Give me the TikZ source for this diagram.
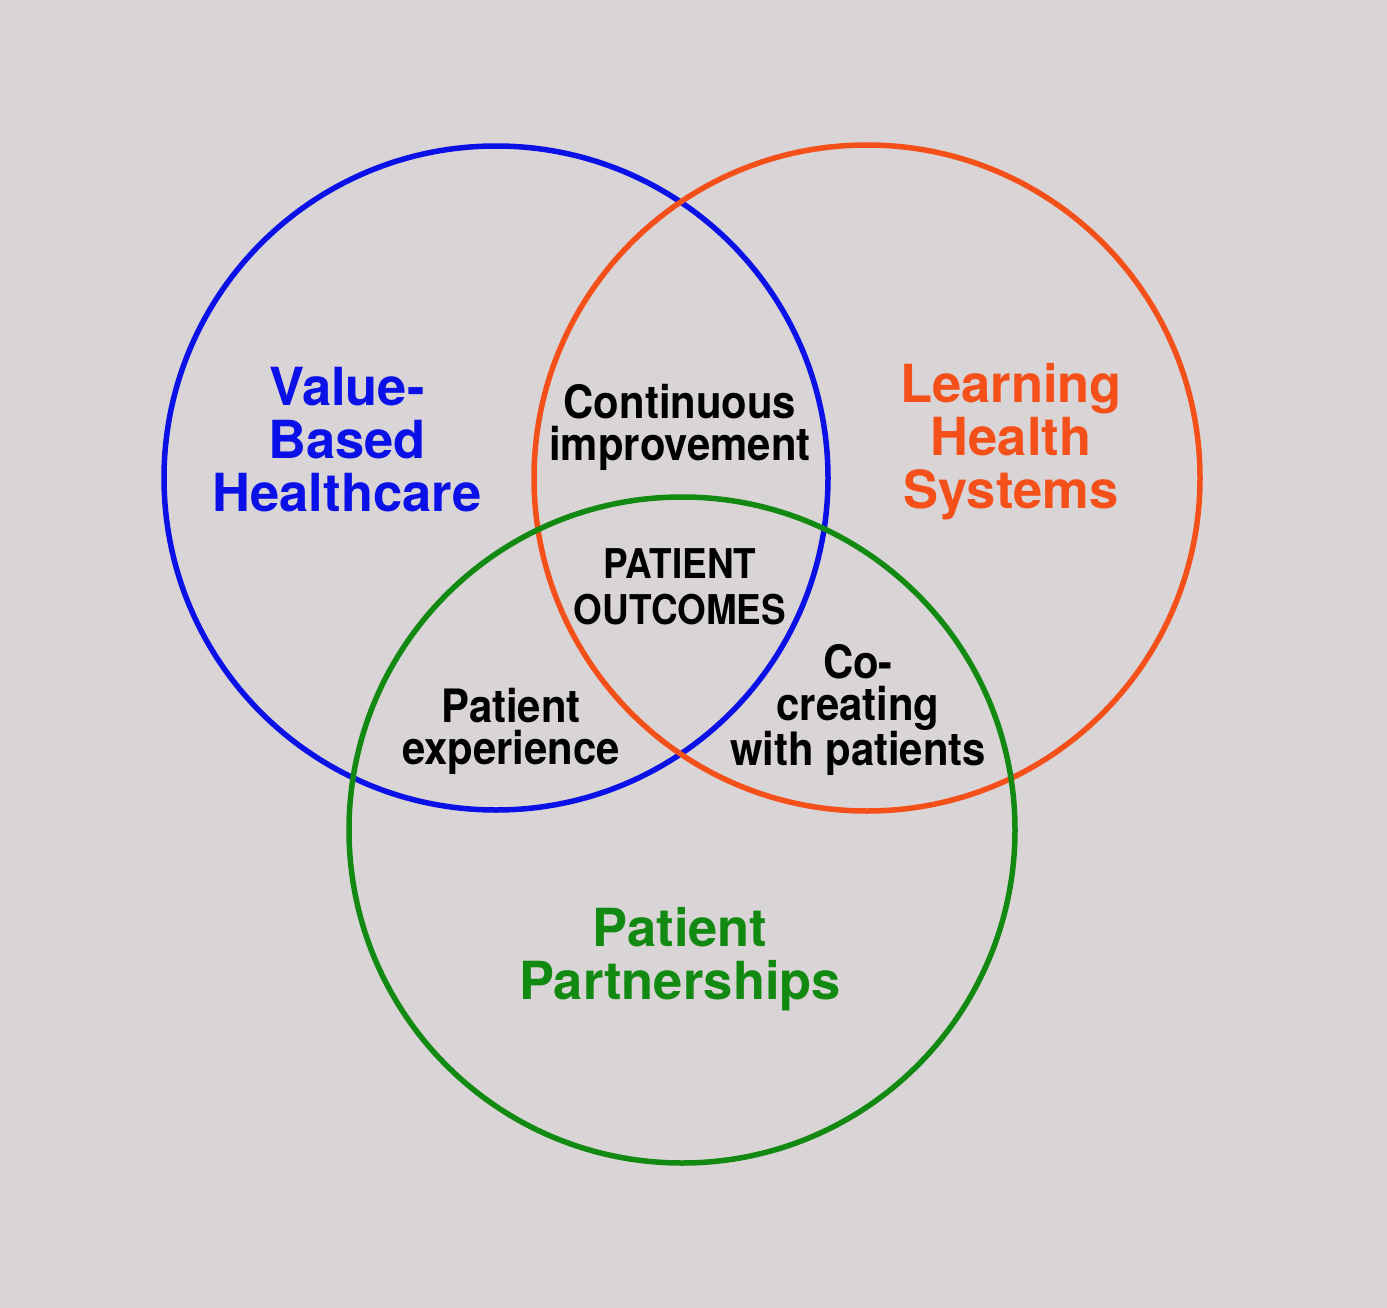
\documentclass[tikz,border=0pt]{standalone}
\usepackage{fontspec}
\setmainfont{TeX Gyre Heros}
\definecolor{bgc}{RGB}{217,212,214}
\definecolor{vblue}{RGB}{10,16,232}
\definecolor{vorange}{RGB}{245,80,26}
\definecolor{vgreen}{RGB}{18,138,18}
\begin{document}
\begin{tikzpicture}[x=1pt,y=-1pt,
  ring/.style={line width=5.5pt},
  title/.style={align=center,font=\bfseries\fontsize{52.5}{53}\selectfont,inner sep=0pt},
  lbl/.style={align=center,font=\bfseries\fontsize{46}{42}\selectfont,inner sep=0pt,text=black,xscale=0.91},
  core/.style={align=center,font=\bfseries\fontsize{41}{46}\selectfont,inner sep=0pt,text=black,xscale=0.9}]
\fill[bgc] (0,0) rectangle (1387,1308);
\useasboundingbox (0,0) rectangle (1387,1308);
\coordinate (cb) at (496,478);
\coordinate (co) at (867,478);
\coordinate (cg) at (682,830);
\draw[ring,vblue] (cb) circle[radius=332];
\draw[ring,vorange] (co) circle[radius=333];
\draw[ring,vgreen] (cg) circle[radius=333];
\node[title,text=vblue] (vbh) at (347,440) {Value-\\Based\\Healthcare};
\node[title,text=vorange] (lhs) at (1011,442) {Learning\\Health\\Systems};
\node[title,text=vgreen] (pp) at (680,959) {Patient\\Partnerships};
\node[lbl] (ci) at (680,427) {Continuous\\improvement};
\node[core] (po) at (680,587) {PATIENT\\OUTCOMES};
\node[lbl] (pe) at (511,731) {Patient\\experience};
\node[lbl] (cc) at (858,710) {Co-\\creating\\with patients};
\end{tikzpicture}
\end{document}
